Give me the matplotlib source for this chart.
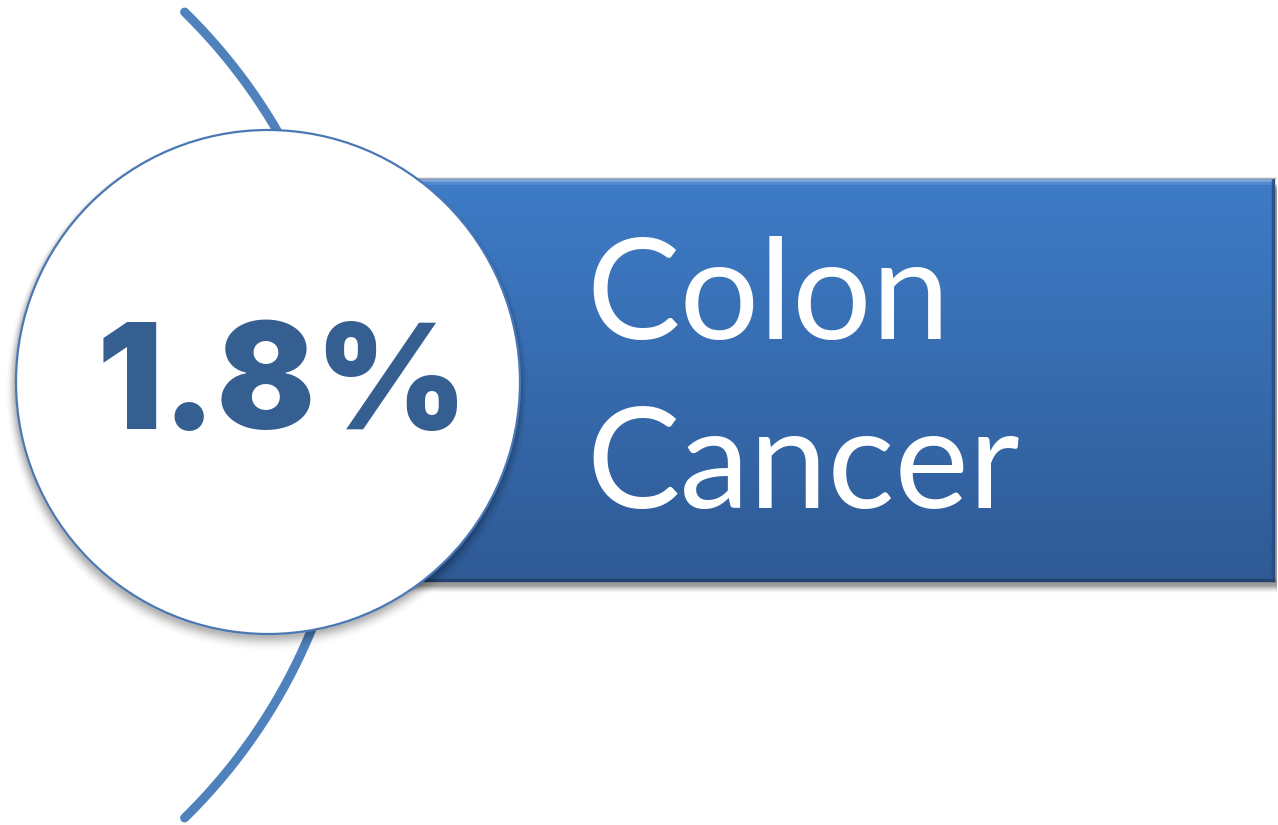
import numpy as np
import matplotlib
matplotlib.use("Agg")
import matplotlib.pyplot as plt
from matplotlib.patches import Circle, Rectangle

# Content of the badge
pct_value = 1.8
label_lines = ["Colon", "Cancer"]

W, H = 1278, 825
DPI = 100

fig = plt.figure(figsize=(W / DPI, H / DPI), dpi=DPI)
ax = fig.add_axes([0, 0, 1, 1])
ax.set_xlim(0, W)
ax.set_ylim(H, 0)
ax.set_aspect("equal")
ax.axis("off")

# Geometry (pixel units)
circ_c = (268, 382)
circ_r = 252
rect_x0, rect_x1 = 400, 1275
rect_y0, rect_y1 = 178, 582
arc_c = (-210, 415)
arc_r = 564

# Thin sweeping arc behind the badge
theta = np.linspace(np.deg2rad(-45.6), np.deg2rad(45.6), 300)
ax.plot(arc_c[0] + arc_r * np.cos(theta), arc_c[1] + arc_r * np.sin(theta),
        color="#4F81BD", lw=6.5, solid_capstyle="round", zorder=1)

# Soft drop shadow under the banner
for i, a in enumerate(np.linspace(0.10, 0.015, 8)):
    ax.add_patch(Rectangle((rect_x0 + 4, rect_y0 + 6 + i), rect_x1 - rect_x0 - 2,
                           rect_y1 - rect_y0 - 2, color="black", alpha=a,
                           lw=0, zorder=2))

# Banner with vertical gradient
grad = np.linspace(0, 1, 256)[:, None]
top = np.array([0x3E, 0x7C, 0xC7]) / 255
bot = np.array([0x2F, 0x5A, 0x95]) / 255
img = top[None, None, :] * (1 - grad[..., None]) + bot[None, None, :] * grad[..., None]
img = np.repeat(img, 2, axis=1)
ax.imshow(img, extent=(rect_x0, rect_x1, rect_y1, rect_y0), aspect="auto",
          zorder=3, interpolation="bilinear")
# Bevel highlights / shading
ax.plot([rect_x0, rect_x1 - 4], [rect_y0 + 2, rect_y0 + 2], color="#8DB3E2", lw=2.0,
        zorder=4, alpha=0.8)
ax.plot([rect_x0, rect_x1 - 2], [rect_y0 + 5, rect_y0 + 5], color="#6A9BD8", lw=2.0,
        zorder=4, alpha=0.5)
ax.plot([rect_x1 - 2, rect_x1 - 2], [rect_y0 + 2, rect_y1 - 2], color="#254A7C", lw=2.5,
        zorder=4, alpha=0.8)
ax.plot([rect_x0, rect_x1 - 2], [rect_y1 - 2, rect_y1 - 2], color="#23416C", lw=2.5,
        zorder=4, alpha=0.9)
ax.plot([rect_x0, rect_x1], [rect_y0, rect_y0], color="#A9A9A9", lw=1.0, zorder=4)

# Circle shadow
for i, a in enumerate(np.linspace(0.10, 0.01, 9)):
    ax.add_patch(Circle((circ_c[0] - 1, circ_c[1] + 3 + i * 0.6), circ_r + 1 + i,
                        color="black", alpha=a * 0.6, lw=0, zorder=5))

# White circle
ax.add_patch(Circle(circ_c, circ_r, facecolor="white", edgecolor="#4A78B5",
                    lw=1.6, zorder=6))

# Value inside the circle
ax.text(282, 429, f"{pct_value:.1f}%", ha="center", va="baseline",
        fontsize=105, fontweight="black", family="Inter",
        color="#365F91", zorder=7)

# Label on the banner
ax.text(586, 339, label_lines[0], ha="left", va="baseline", fontsize=101,
        family="Lato", color="white", zorder=7)
ax.text(586, 508, label_lines[1], ha="left", va="baseline", fontsize=101,
        family="Lato", color="white", zorder=7)

fig.savefig("out.png", dpi=DPI)
